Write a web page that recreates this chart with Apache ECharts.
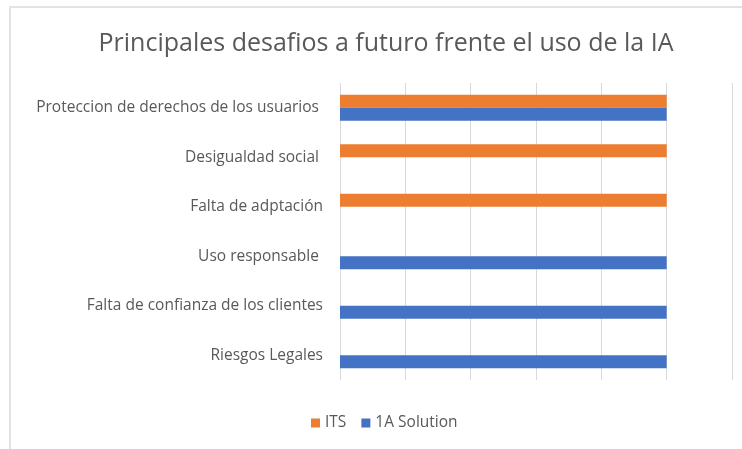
<!DOCTYPE html>
<html>
<head>
<meta charset="utf-8">
<script src="https://cdn.jsdelivr.net/npm/echarts@6/dist/echarts.min.js"></script>
<style>
  html, body { margin: 0; padding: 0; background: #fff; }
  #frame {
    position: absolute; left: 9px; top: 6px; width: 740px; height: 441px;
    border-top: 2px solid #e3e3e3; border-left: 2px solid #e3e3e3;
  }
  #main { position: absolute; left: 0; top: 0; width: 742px; height: 449px; }
</style>
</head>
<body>
<div id="frame"></div>
<div id="main"></div>
<script>
// categories, bottom to top as on the chart
const categories = [
  "Riesgos Legales",
  "Falta de confianza de los clientes",
  "Uso responsable ",
  "Falta de adptación",
  "Desigualdad social ",
  "Proteccion de derechos de los usuarios "
];
const itsValues = [null, null, null, 1, 1, 1];
const solutionValues = [1, 1, 1, null, null, 1];

let myChart = echarts.init(document.getElementById("main"));

let options = {
  animation: false,
  title: {
    text: "Principales desafios a futuro frente el uso de la IA",
    left: 381,
    textAlign: "center",
    top: 26,
    textStyle: {
      fontFamily: "Open Sans",
      fontSize: 25,
      fontWeight: "normal",
      color: "#595959"
    }
  },
  legend: {
    data: ["ITS", "1A Solution"],
    bottom: 13,
    left: 306,
    icon: "rect",
    itemWidth: 9,
    itemHeight: 9,
    itemGap: 15,
    textStyle: { fontFamily: "Open Sans", fontSize: 15.5, color: "#595959" }
  },
  grid: { left: 340, right: 10, top: 83, bottom: 69, containLabel: false },
  xAxis: {
    type: "value",
    min: 0,
    max: 1.2,
    interval: 0.2,
    axisLabel: { show: false },
    axisLine: { show: false },
    axisTick: { show: false },
    splitLine: { lineStyle: { color: "#d9d9d9", width: 1 } }
  },
  yAxis: {
    type: "category",
    data: categories,
    axisLine: { show: false },
    axisTick: { show: false },
    axisLabel: {
      margin: 17,
      fontFamily: "Open Sans",
      fontSize: 15.5,
      color: "#595959"
    }
  },
  series: [
    {
      name: "ITS",
      type: "bar",
      data: itsValues,
      barWidth: 13,
      barGap: "0%",
      itemStyle: { color: "#ed7d31" }
    },
    {
      name: "1A Solution",
      type: "bar",
      data: solutionValues,
      barWidth: 13,
      barGap: "0%",
      itemStyle: { color: "#4472c4" }
    }
  ]
};
myChart.setOption(options);
</script>
</body>
</html>
